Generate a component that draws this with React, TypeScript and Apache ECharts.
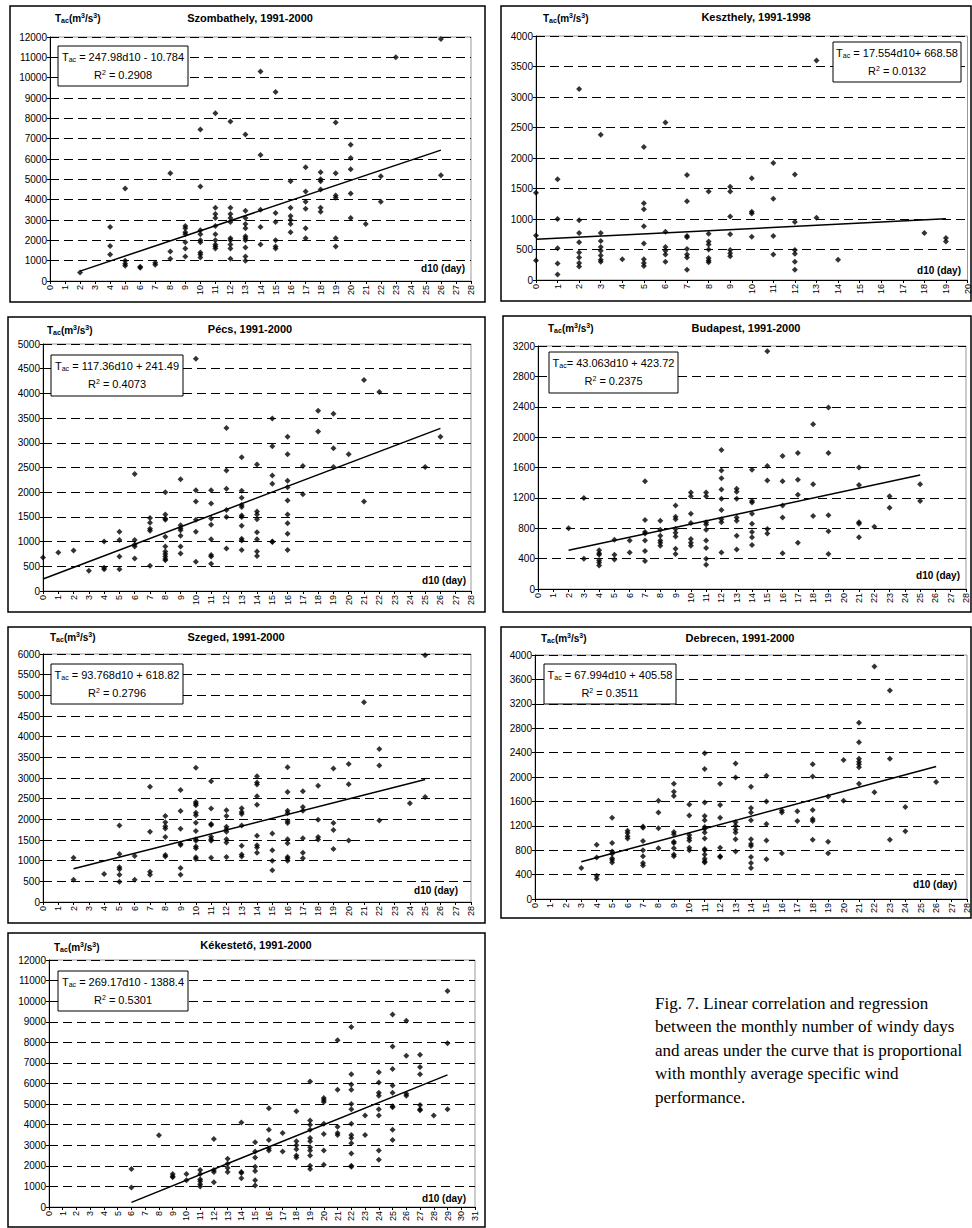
import { useEffect, useRef } from 'react'
import * as echarts from 'echarts'

// d10 (day) -> list of Tac values
const szombathely: [number, number[]][] = [
  [2, [420]], [4, [2650, 1720, 1300]], [5, [4550, 1000, 850, 750]], [6, [700, 650]], [7, [900, 800]],
  [8, [5300, 1450, 1100]], [9, [2700, 2600, 2400, 2300, 1900, 1600, 1200]],
  [10, [7450, 4650, 2500, 2300, 2000, 1900, 1400, 1300, 1150]],
  [11, [8250, 3600, 3300, 3100, 2700, 2300, 2000, 1800, 1700, 1600]],
  [12, [7850, 3600, 3300, 3100, 2900, 2100, 2000, 1800, 1600, 1100]],
  [13, [7200, 3450, 3100, 2800, 2600, 2200, 2100, 2000, 1650, 1200, 1000]],
  [14, [10300, 6200, 3500, 2650, 1800]], [15, [9300, 3350, 2900, 2000, 1700, 1600]],
  [16, [4900, 3600, 3200, 3000, 2800, 2400]], [17, [5600, 4400, 3900, 3550, 2600, 2100]],
  [18, [5350, 5000, 4900, 4500, 3600, 3400]], [19, [7800, 5300, 4200, 4100, 2100, 1700]],
  [20, [6700, 6050, 5500, 4300, 3100]], [21, [2800]], [22, [5150, 3900]], [23, [11000]], [26, [11900, 5200]],
]
const keszthely: [number, number[]][] = [
  [0, [1430, 730, 320]], [1, [1650, 1000, 520, 270, 90]], [2, [3130, 980, 770, 620, 450, 370, 280, 220]],
  [3, [2380, 770, 640, 540, 480, 400, 330, 300]], [4, [340]], [5, [2180, 1260, 1160, 880, 600, 340, 280, 230]],
  [6, [2580, 790, 540, 480, 420, 300]], [7, [1720, 1290, 720, 700, 510, 420, 370, 170]],
  [8, [1450, 760, 630, 580, 500, 360, 320, 290]], [9, [1530, 1450, 1040, 750, 490, 440, 390]],
  [10, [1670, 1120, 1090, 710]], [11, [1920, 1330, 720, 420]], [12, [1730, 950, 490, 430, 300, 170]],
  [13, [3600, 1020]], [14, [330]], [18, [770]], [19, [690, 630]],
]
const pecs: [number, number[]][] = [
  [0, [680]], [1, [780]], [2, [820]], [3, [410]], [4, [1000, 470, 440]], [5, [1200, 1030, 700, 440]],
  [6, [2370, 1030, 940, 900, 660]], [7, [1480, 1380, 1260, 1220, 510]],
  [8, [2000, 1550, 1470, 1440, 1100, 900, 800, 750, 700, 650, 620]], [9, [2260, 1330, 1270, 1230, 1120, 900, 760]],
  [10, [4700, 2040, 1810, 1440, 1200, 590]], [11, [2040, 1770, 1470, 1340, 1050, 730, 700, 550]],
  [12, [3300, 2440, 2070, 1640, 1500, 860]], [13, [2710, 2030, 1890, 1740, 1700, 1530, 1500, 1320, 1060, 1020, 830]],
  [14, [2560, 1610, 1550, 1450, 1190, 1050, 800, 710]], [15, [3490, 2930, 2340, 2170, 1000, 990]],
  [16, [3120, 2770, 2230, 2100, 1830, 1550, 1370, 1160, 830]], [17, [2530, 1960]], [18, [3650, 3230]],
  [19, [3590, 2890, 2510]], [20, [2770]], [21, [4270, 1810]], [22, [4030]], [25, [2510]], [26, [3120]],
]
const budapest: [number, number[]][] = [
  [2, [800]], [3, [1200, 400]], [4, [510, 470, 450, 380, 350, 310]], [5, [650, 450, 390]], [6, [640, 480]],
  [7, [1420, 910, 750, 730, 640, 500, 370]], [8, [900, 780, 700, 640, 610, 570]],
  [9, [1100, 950, 920, 790, 740, 690, 530, 460]], [10, [1270, 1220, 990, 870, 660, 610, 570]],
  [11, [1270, 1220, 880, 850, 780, 640, 540, 400, 320]], [12, [1830, 1560, 1460, 1310, 1190, 1040, 920, 880, 480]],
  [13, [1320, 1280, 1190, 940, 900, 700, 520]], [14, [1570, 1160, 1140, 990, 860, 750, 680, 580]],
  [15, [3130, 1620, 1430, 790, 730]], [16, [1750, 1420, 1100, 940, 470]], [17, [1790, 1440, 1240, 610]],
  [18, [2170, 1380, 960]], [19, [2390, 1790, 970, 760, 460]], [21, [1600, 1370, 880, 860, 680]],
  [22, [820]], [23, [1220, 1070]], [25, [1380, 1160]],
]
const szeged: [number, number[]][] = [
  [2, [1070, 540]], [4, [680]], [5, [1850, 1160, 840, 790, 660, 490]], [6, [1110, 540]],
  [7, [2790, 1700, 730, 660]], [8, [2080, 1930, 1830, 1780, 1570, 1140, 1100]],
  [9, [2710, 2200, 1770, 1410, 1380, 820, 660]],
  [10, [3250, 2420, 2380, 2340, 2160, 2100, 1920, 1720, 1520, 1480, 1340, 1300, 1080, 1040]],
  [11, [2920, 2260, 1890, 1860, 1580, 1520, 1480, 1070]], [12, [2220, 2080, 1820, 1760, 1700, 1520, 1440, 1090]],
  [13, [2270, 2180, 2130, 1850, 1360, 1150, 1100]], [14, [3040, 2890, 2840, 2560, 2350, 1600, 1370, 1320, 1190]],
  [15, [1660, 1250, 1000, 770]], [16, [3260, 2660, 2210, 2150, 1960, 1910, 1520, 1420, 1090, 1050, 1000]],
  [17, [2680, 2300, 2210, 1540, 1190, 1060]], [18, [2810, 1990, 1570, 1510]], [19, [3230, 1910, 1740, 1280]],
  [20, [3340, 2850, 1490]], [21, [4830]], [22, [3700, 3300, 1970]], [24, [2390]], [25, [5970, 2540]],
]
const debrecen: [number, number[]][] = [
  [3, [510]], [4, [890, 680, 380, 330]], [5, [1330, 920, 780, 740, 670, 640, 600]], [6, [1120, 1080, 1030, 990]],
  [7, [1190, 1170, 950, 800, 700, 590, 550]], [8, [1610, 1420, 1160, 830]],
  [9, [1890, 1760, 1690, 1100, 1060, 940, 920, 830, 730, 700]], [10, [1550, 1370, 1050, 1000, 960, 840, 800]],
  [11, [2390, 2130, 1580, 1360, 1290, 1180, 1150, 1090, 990, 820, 800, 730, 660, 620, 600]],
  [12, [1890, 1540, 1330, 840, 700, 690]], [13, [2220, 1990, 1260, 1200, 1140, 1090, 980, 780]],
  [14, [1840, 1490, 1420, 1290, 980, 900, 870, 690, 590, 510]], [15, [2020, 1600, 1230, 960, 650]],
  [16, [1450, 1420, 750]], [17, [1440, 1280]], [18, [2210, 2010, 1460, 1310, 1280, 970]], [19, [1680, 940, 750]],
  [20, [2280, 1610]], [21, [2890, 2570, 2300, 2250, 2210, 2160, 1890]], [22, [3810, 1750]],
  [23, [3420, 2300, 970]], [24, [1510, 1110]], [26, [1920]],
]
const kekesteto: [number, number[]][] = [
  [6, [1850, 950]], [8, [3480]], [9, [1600, 1500, 1450]], [10, [1600, 1300]],
  [11, [1800, 1600, 1350, 1250, 1100, 1000]], [12, [3300, 1800, 1700, 1200]], [13, [2350, 2100, 1900, 1700]],
  [14, [4100, 1700, 1650, 1400]], [15, [3150, 2700, 2400, 1950, 1750, 1300, 1050]],
  [16, [4800, 3750, 3250, 2850, 2750]], [17, [3600, 2700]], [18, [4650, 3200, 3000, 2800, 2500, 2400]],
  [19, [6100, 4200, 4000, 3750, 3350, 3200, 2900, 2750, 2500, 2000, 1850]],
  [20, [5300, 5200, 5100, 4050, 3550, 2750, 2050]], [21, [8100, 5700, 3900, 3600, 3500]],
  [22, [8750, 6450, 5950, 5700, 5000, 4750, 4050, 3500, 3350, 3100, 2600, 2000, 1950]], [23, [4450, 3500]],
  [24, [6550, 6050, 5550, 5400, 4750, 4450, 2750, 2300]],
  [25, [9350, 7800, 6700, 5900, 5550, 4900, 4850, 3750, 3250]], [26, [9050, 7350, 5500, 5400]],
  [27, [7400, 6800, 6450, 4950, 4750, 4700]], [28, [4450]], [29, [10500, 7950, 4750]],
]

const panels = [
  { title: 'Szombathely, 1991-2000', data: szombathely, slope: 247.98, icpt: -10.784, r2: '0.2908', eq: ' = 247.98d10 - 10.784', yMax: 12000, yStep: 1000, xMax: 28,
    grid: [50, 37, 421, 244], box: [10, 6, 475, 296], eqBox: [58, 46, 130, 40], lab: [55, 18], tc: [250, 18], d10: [465, 268] },
  { title: 'Keszthely, 1991-1998', data: keszthely, slope: 17.554, icpt: 668.58, r2: '0.0132', eq: ' = 17.554d10+ 668.58', yMax: 4000, yStep: 500, xMax: 20,
    grid: [536, 36, 434, 244], box: [501, 6, 470, 295], eqBox: [833, 42, 128, 40], lab: [543, 18], tc: [756, 17], d10: [961, 270] },
  { title: 'Pécs, 1991-2000', data: pecs, slope: 117.36, icpt: 241.49, r2: '0.4073', eq: ' = 117.36d10 + 241.49', yMax: 5000, yStep: 500, xMax: 28,
    grid: [43, 344, 428, 247], box: [8, 317, 477, 295], eqBox: [51, 355, 132, 41], lab: [47, 330], tc: [250, 329], d10: [466, 580] },
  { title: 'Budapest, 1991-2000', data: budapest, slope: 43.063, icpt: 423.72, r2: '0.2375', eq: '= 43.063d10 + 423.72', yMax: 3200, yStep: 400, xMax: 28,
    grid: [538, 346, 428, 243], box: [503, 316, 468, 296], eqBox: [549, 352, 129, 41], lab: [548, 328], tc: [746, 328], d10: [960, 575] },
  { title: 'Szeged, 1991-2000', data: szeged, slope: 93.768, icpt: 618.82, r2: '0.2796', eq: ' = 93.768d10 + 618.82', yMax: 6000, yStep: 500, xMax: 28,
    grid: [43, 654, 428, 248], box: [8, 627, 477, 296], eqBox: [51, 664, 132, 40], lab: [50, 637], tc: [236, 637], d10: [458, 890] },
  { title: 'Debrecen, 1991-2000', data: debrecen, slope: 67.994, icpt: 405.58, r2: '0.3511', eq: ' = 67.994d10 + 405.58', yMax: 4000, yStep: 400, xMax: 28,
    grid: [535, 655, 432, 244], box: [501, 627, 470, 291], eqBox: [544, 664, 132, 40], lab: [541, 638], tc: [740, 638], d10: [957, 884] },
  { title: 'Kékestető, 1991-2000', data: kekesteto, slope: 269.17, icpt: -1388.4, r2: '0.5301', eq: ' = 269.17d10 - 1388.4', yMax: 12000, yStep: 1000, xMax: 31,
    grid: [49, 960, 426, 247], box: [8, 933, 477, 294], eqBox: [58, 971, 130, 40], lab: [54, 947], tc: [256, 945], d10: [466, 1198] },
]

const caption = [
  'Fig. 7. Linear correlation and regression',
  'between the monthly number of windy days',
  'and areas under the curve that is proportional',
  'with monthly average specific wind',
  'performance.',
]

const FONT = 'Liberation Sans, Arial, sans-serif'
const rich = {
  sub: { fontSize: 7, verticalAlign: 'bottom', padding: [4, 0, 0, 0], fontFamily: FONT },
  sup: { fontSize: 7, verticalAlign: 'top', padding: [0, 0, 5, 0], fontFamily: FONT },
}

export default function App() {
  const ref = useRef<HTMLDivElement>(null)
  useEffect(() => {
    document.body.style.margin = '0'
    if (!ref.current) return
    const chart = echarts.init(ref.current, null, { renderer: 'svg' })
    const grid: any[] = [], xAxis: any[] = [], yAxis: any[] = [], series: any[] = [], graphic: any[] = []
    panels.forEach((p, i) => {
      const [l, t, w, h] = p.grid
      grid.push({ left: l, top: t, width: w, height: h, show: true, borderColor: '#999', borderWidth: 1, backgroundColor: '#fff' })
      xAxis.push({
        gridIndex: i, type: 'value', min: 0, max: p.xMax, interval: 1,
        axisLine: { onZero: false, lineStyle: { color: '#000' } }, axisTick: { length: 3, lineStyle: { color: '#000' } },
        splitLine: { show: false },
        axisLabel: { rotate: 90, fontSize: 9, color: '#000', fontFamily: FONT, margin: 4, formatter: (v: number) => String(v) },
      })
      yAxis.push({
        gridIndex: i, type: 'value', min: 0, max: p.yMax, interval: p.yStep,
        axisLine: { show: true, lineStyle: { color: '#000' } }, axisTick: { show: true, length: 3, inside: false, lineStyle: { color: '#000' } },
        splitLine: { lineStyle: { color: '#000', type: [9, 5], width: 1 } },
        axisLabel: { fontSize: 10, color: '#000', fontFamily: FONT, margin: 3, formatter: (v: number) => String(v) },
      })
      const pts: number[][] = []
      p.data.forEach(([d, vs]) => vs.forEach((v) => pts.push([d, v])))
      const xs = p.data.map((r) => r[0])
      const x0 = Math.min(...xs), x1 = Math.max(...xs)
      series.push({ type: 'scatter', xAxisIndex: i, yAxisIndex: i, data: pts, symbol: 'diamond', symbolSize: 6, itemStyle: { color: '#000' } })
      series.push({
        type: 'line', xAxisIndex: i, yAxisIndex: i, showSymbol: false, silent: true,
        data: [[x0, p.slope * x0 + p.icpt], [x1, p.slope * x1 + p.icpt]], lineStyle: { color: '#000', width: 1.5 },
      })
      const [bx, by, bw, bh] = p.box
      graphic.push({ type: 'rect', shape: { x: bx, y: by, width: bw, height: bh }, style: { fill: 'none', stroke: '#000', lineWidth: 1.5 }, z: 0 })
      const [ex, ey, ew, eh] = p.eqBox
      graphic.push({ type: 'rect', shape: { x: ex, y: ey, width: ew, height: eh }, style: { fill: '#fff', stroke: '#000', lineWidth: 1 }, z: 100 })
      graphic.push({ type: 'text', x: ex + ew / 2, y: ey + 11, z: 101, style: { text: 'T{sub|ac}' + p.eq, rich, fontSize: 11, fontFamily: FONT, fill: '#000', align: 'center', verticalAlign: 'middle' } })
      graphic.push({ type: 'text', x: ex + ew / 2, y: ey + 29, z: 101, style: { text: 'R{sup|2} = ' + p.r2, rich, fontSize: 11, fontFamily: FONT, fill: '#000', align: 'center', verticalAlign: 'middle' } })
      graphic.push({ type: 'text', x: p.tc[0], y: p.tc[1], z: 101, style: { text: p.title, fontSize: 11, fontWeight: 'bold', fontFamily: FONT, fill: '#000', align: 'center', verticalAlign: 'middle' } })
      graphic.push({ type: 'text', x: p.lab[0], y: p.lab[1], z: 101, style: { text: 'T{sub|ac}(m{sup|3}/s{sup|3})', rich: { sub: { ...rich.sub, fontWeight: 'bold' }, sup: { ...rich.sup, fontWeight: 'bold' } }, fontSize: 10, fontWeight: 'bold', fontFamily: FONT, fill: '#000', verticalAlign: 'middle' } })
      graphic.push({ type: 'text', x: p.d10[0], y: p.d10[1], z: 101, style: { text: 'd10 (day)', fontSize: 10, fontWeight: 'bold', fontFamily: FONT, fill: '#000', align: 'right', verticalAlign: 'middle' } })
    })
    caption.forEach((c, i) => {
      graphic.push({ type: 'text', x: 655, y: 1003 + i * 23.5, style: { text: c, fontSize: 17, fontFamily: 'Liberation Serif, Times New Roman, serif', fill: '#000', verticalAlign: 'middle' } })
    })
    chart.setOption({ animation: false, backgroundColor: '#fff', grid, xAxis, yAxis, series, graphic })
    return () => chart.dispose()
  }, [])
  return <div ref={ref} style={{ width: 972, height: 1228 }} />
}
